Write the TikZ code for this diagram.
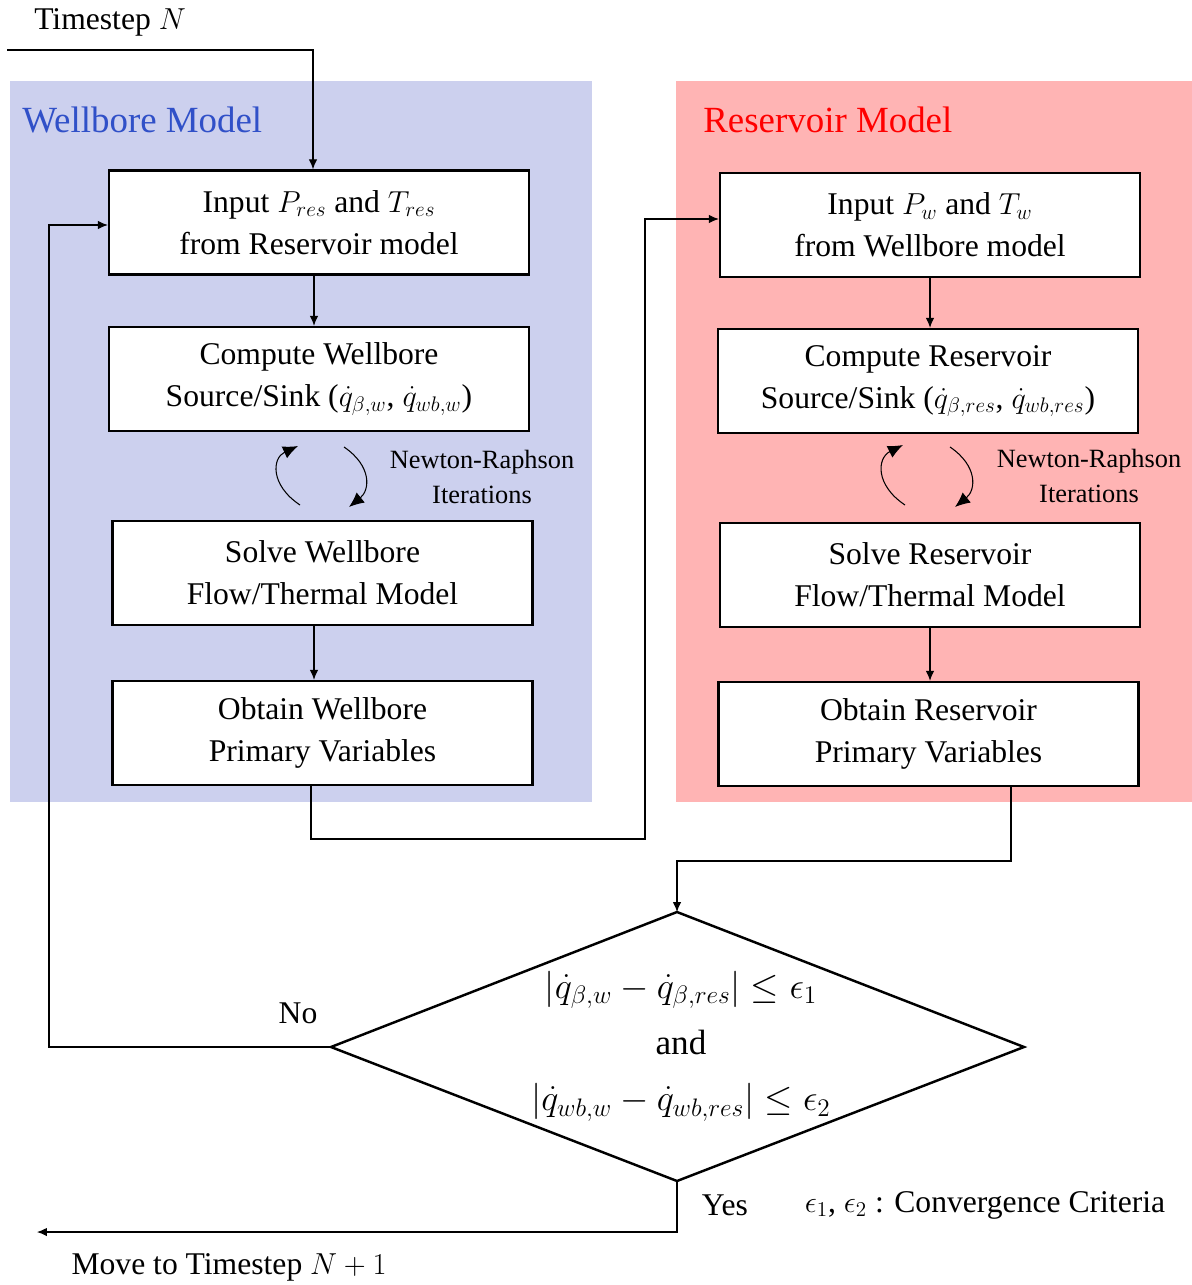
\documentclass[tikz,border=0pt]{standalone}
\usepackage{fontspec}
\setmainfont{Liberation Serif}
\usetikzlibrary{arrows.meta}
\definecolor{wbfill}{RGB}{204,208,238}
\definecolor{rsfill}{RGB}{255,180,180}
\definecolor{wbtitle}{RGB}{48,80,200}
\definecolor{rstitle}{RGB}{255,0,0}
\begin{document}
\begin{tikzpicture}[x=0.02cm,y=-0.02cm,
  stepbox/.style={draw, fill=white, line width=1.4pt, align=center,
    minimum width=8.4cm, minimum height=2.08cm, inner sep=2pt,
    font=\fontsize{18}{24}\selectfont},
  arr/.style={-{Latex[length=2mm,width=1.7mm]}, line width=0.6pt},
  cyc/.style={-{Latex[length=3mm,width=2.6mm]}, line width=0.6pt},
  lbl/.style={inner sep=0pt, font=\fontsize{18}{24}\selectfont},
  nrlbl/.style={inner sep=0pt, align=center, font=\fontsize{15}{19.5}\selectfont},
  ttl/.style={inner sep=0pt, anchor=west, font=\fontsize{21}{25}\selectfont}]
\useasboundingbox (0,0) rectangle (1192,1285);

% model panels
\fill[wbfill] (10,81) rectangle (592,802);
\fill[rsfill] (676,81) rectangle (1192,802);
\node[ttl, text=wbtitle] (wbttl) at (22,120) {Wellbore Model};
\node[ttl, text=rstitle] (rsttl) at (703,120) {Reservoir Model};

% wellbore steps
\node[stepbox] (B1) at (319,222.5) {Input $P_{res}$ and $T_{res}$\\from Reservoir model};
\node[stepbox] (B2) at (319,379) {Compute Wellbore\\Source/Sink ($\dot q_{\beta,w}$, $\dot q_{wb,w}$)};
\node[stepbox] (B3) at (322.5,573) {Solve Wellbore\\Flow/Thermal Model};
\node[stepbox] (B4) at (322.5,733) {Obtain Wellbore\\Primary Variables};

% reservoir steps
\node[stepbox] (R1) at (930,225) {Input $P_w$ and $T_w$\\from Wellbore model};
\node[stepbox] (R2) at (928,381) {Compute Reservoir\\Source/Sink ($\dot q_{\beta,res}$, $\dot q_{wb,res}$)};
\node[stepbox] (R3) at (930,575) {Solve Reservoir\\Flow/Thermal Model};
\node[stepbox] (R4) at (928.5,734) {Obtain Reservoir\\Primary Variables};

% Newton-Raphson loops
\draw[cyc] (300,505) .. controls (270,485) and (272,458) .. (298,446);
\draw[cyc] (344,447) .. controls (372,466) and (370,490) .. (349,507);
\node[nrlbl] (nr1) at (482,477) {Newton-Raphson\\Iterations};
\draw[cyc] (905,505) .. controls (875,485) and (877,458) .. (903,445);
\draw[cyc] (950,447) .. controls (978,466) and (976,490) .. (955,507);
\node[nrlbl] (nr2) at (1089,476) {Newton-Raphson\\Iterations};

% convergence check
\coordinate (diaN) at (677,912);
\coordinate (diaE) at (1024,1047);
\coordinate (diaS) at (677,1181);
\coordinate (diaW) at (331,1047);
\draw[line width=1.4pt, line join=miter] (diaN) -- (diaE) -- (diaS) -- (diaW) -- cycle;
\node[inner sep=0pt, align=center, font=\fontsize{20}{32}\selectfont] (crit) at (681,1046)
  {$\bigl|\dot q_{\beta,w}-\dot q_{\beta,res}\bigr|\le\epsilon_1$\\and\\
   $\bigl|\dot q_{wb,w}-\dot q_{wb,res}\bigr|\le\epsilon_2$};

% connectors
\coordinate (tsin) at (7,50);
\coordinate (j1) at (645,839);
\coordinate (j2) at (677,861);
\coordinate (j3) at (49,1047);
\coordinate (exit) at (37,1232);

\draw[arr] (tsin) -| ([xshift=-0.12cm]B1.north);
\draw[arr] ([xshift=-0.1cm]B1.south) -- ([xshift=-0.1cm]B2.north);
\draw[arr] ([xshift=-0.17cm]B3.south) -- ([xshift=-0.17cm]B4.north);
\draw[arr] (R1.south) -- (R1.south |- R2.north);
\draw[arr] (R3.south) -- (R3.south |- R4.north);
\draw[arr] ([xshift=-0.23cm]B4.south) |- (j1) |- ([yshift=0.12cm]R1.west);
\draw[arr] ([xshift=1.65cm]R4.south) |- (j2) -- (diaN);
\draw[arr] (diaW) -- (j3) |- ([yshift=-0.05cm]B1.west);
\draw[arr] (diaS) |- (exit);

% labels
\node[lbl] (ts) at (110,22) {Timestep $N$};
\node[lbl] (no) at (298,1013) {No};
\node[lbl] (yes) at (725,1205) {Yes};
\node[lbl] (cc) at (985,1205) {$\epsilon_1$, $\epsilon_2$ : Convergence Criteria};
\node[lbl] (next) at (229,1267) {Move to Timestep $N+1$};
\end{tikzpicture}
\end{document}
